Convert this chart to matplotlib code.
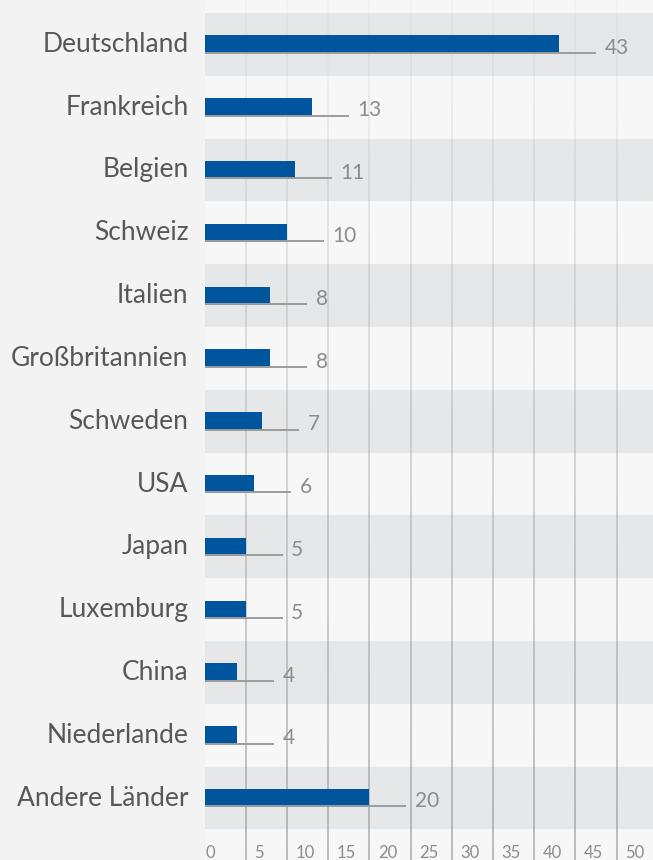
import numpy as np
import matplotlib
matplotlib.use("Agg")
import matplotlib.pyplot as plt
from matplotlib.collections import LineCollection
from matplotlib.transforms import ScaledTranslation, blended_transform_factory

categories = ["Deutschland", "Frankreich", "Belgien", "Schweiz", "Italien",
              "Großbritannien", "Schweden", "USA", "Japan", "Luxemburg",
              "China", "Niederlande", "Andere Länder"]
values = [43, 13, 11, 10, 8, 8, 7, 6, 5, 5, 4, 4, 20]
ticks = [0, 5, 10, 15, 20, 25, 30, 35, 40, 45, 50]
tick_labels = [str(t) for t in ticks]

plt.rcParams['font.family'] = ['Lato', 'DejaVu Sans']

W, H = 653, 860
fig = plt.figure(figsize=(W / 100, H / 100), dpi=100)
fig.patch.set_facecolor("#f3f3f3")

ax_left, ax_top, row_h = 204.5, 13.0, 62.8
n = len(categories)
ax_bottom_px = ax_top + n * row_h
ax = fig.add_axes([ax_left / W, 1 - ax_bottom_px / H, (W - ax_left) / W, (ax_bottom_px - ax_top) / H])
ax.set_facecolor("#f7f7f7")
px_per_unit = 41.2 / 5
ax.set_xlim(0, (W - ax_left) / px_per_unit)
ax.set_ylim(n - 0.5, -0.5)

# light plot-area background extending to top & bottom of figure
fig.patches.append(plt.Rectangle((ax_left / W, 0), 1, 1, transform=fig.transFigure,
                                 color="#f7f7f7", zorder=-10))

# alternating bands
for i in range(0, n, 2):
    ax.axhspan(i - 0.5, i + 0.5, color="#e6e7e9", lw=0, zorder=0)

# fading vertical grid lines
trans = blended_transform_factory(ax.transData, fig.transFigure)
for t in ticks[1:]:
    ys = np.linspace(0, 1, 60)
    segs = [[(t, ys[k]), (t, ys[k + 1])] for k in range(len(ys) - 1)]
    alphas = 0.65 - 0.6 * ys[:-1]
    cols = [(0.55, 0.55, 0.55, a) for a in alphas]
    lc = LineCollection(segs, colors=cols, linewidths=1.2, transform=trans, zorder=1, clip_on=False)
    ax.add_collection(lc)

bar_h = 18 / row_h
y = np.arange(n)
ax.barh(y, values, height=bar_h, color="#00559f", zorder=3)

ext = 37 / px_per_unit
for i, v in enumerate(values):
    yb = i + bar_h / 2 - 0.01
    ax.plot([0, v + ext], [yb, yb], color="#9c9c9c", lw=1.4, zorder=4, solid_capstyle="butt")
    ax.text(v + ext + 8.5 / px_per_unit, i + 0.05, str(v), color="#8c8c8c",
            fontsize=15, va="center", ha="left", zorder=5)
    ax.text(-16 / px_per_unit, i + 7.5 / row_h, categories[i], color="#585858",
            fontsize=19, va="baseline", ha="right", zorder=5, clip_on=False)

ax.set_yticks([])
ax.set_xticks(ticks)
ax.set_xticklabels(tick_labels, color="#8c8c8c", fontsize=12, ha="left")
ax.tick_params(axis="x", length=0, pad=11)
for t, lab in zip(ticks, ax.get_xticklabels()):
    dx = 1 if t == 0 else 8.5
    lab.set_transform(lab.get_transform() + ScaledTranslation(dx / 100, 0, fig.dpi_scale_trans))
for s in ax.spines.values():
    s.set_visible(False)

fig.savefig("out.png", dpi=100, facecolor=fig.get_facecolor())
